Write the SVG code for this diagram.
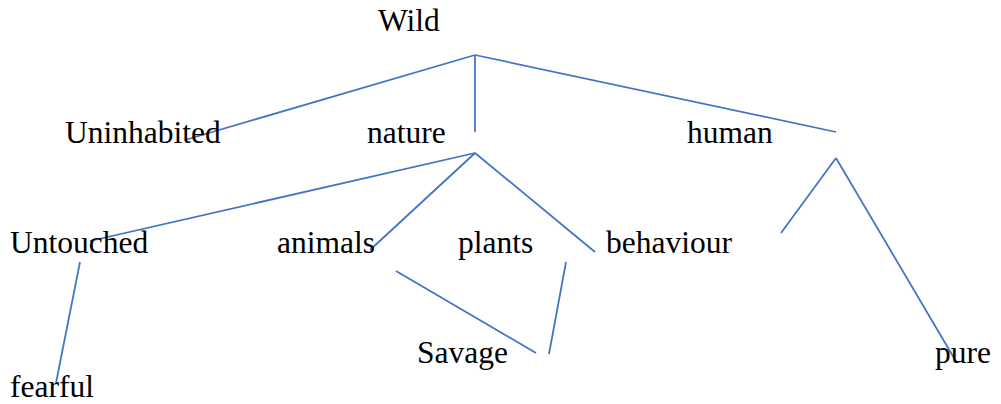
<svg xmlns="http://www.w3.org/2000/svg" width="1001" height="404" viewBox="0 0 1001 404">
<style>
text{font-family:"Liberation Serif","Times New Roman",serif;font-size:31.5px;fill:#000}
line{stroke:#4472C4;stroke-width:1.75;fill:none}
</style>
<rect width="1001" height="404" fill="#fff"/>
<g id="connectors">
<line x1="475" y1="55" x2="185" y2="140"/>
<line x1="475" y1="55" x2="475" y2="132"/>
<line x1="475" y1="55" x2="836" y2="132"/>
<line x1="475" y1="153" x2="90" y2="241"/>
<line x1="475" y1="153" x2="370" y2="250"/>
<line x1="475" y1="153" x2="595" y2="252"/>
<line x1="836" y1="158" x2="781" y2="233"/>
<line x1="836" y1="158" x2="957" y2="363"/>
<line x1="80" y1="262" x2="56" y2="383"/>
<line x1="396" y1="271" x2="536" y2="353"/>
<line x1="566" y1="262" x2="549" y2="354"/>
</g>
<g id="wild"><text x="378" y="31">Wild</text></g>
<g id="uninhabited"><text x="65" y="143">Uninhabited</text></g>
<g id="nature"><text x="367" y="143">nature</text></g>
<g id="human"><text x="687" y="143">human</text></g>
<g id="untouched"><text x="10" y="253">Untouched</text></g>
<g id="animals"><text x="277" y="253">animals</text></g>
<g id="plants"><text x="458" y="253">plants</text></g>
<g id="behaviour"><text x="606" y="253">behaviour</text></g>
<g id="savage"><text x="417" y="363">Savage</text></g>
<g id="pure"><text x="935" y="363">pure</text></g>
<g id="fearful"><text x="10" y="397">fearful</text></g>
</svg>
